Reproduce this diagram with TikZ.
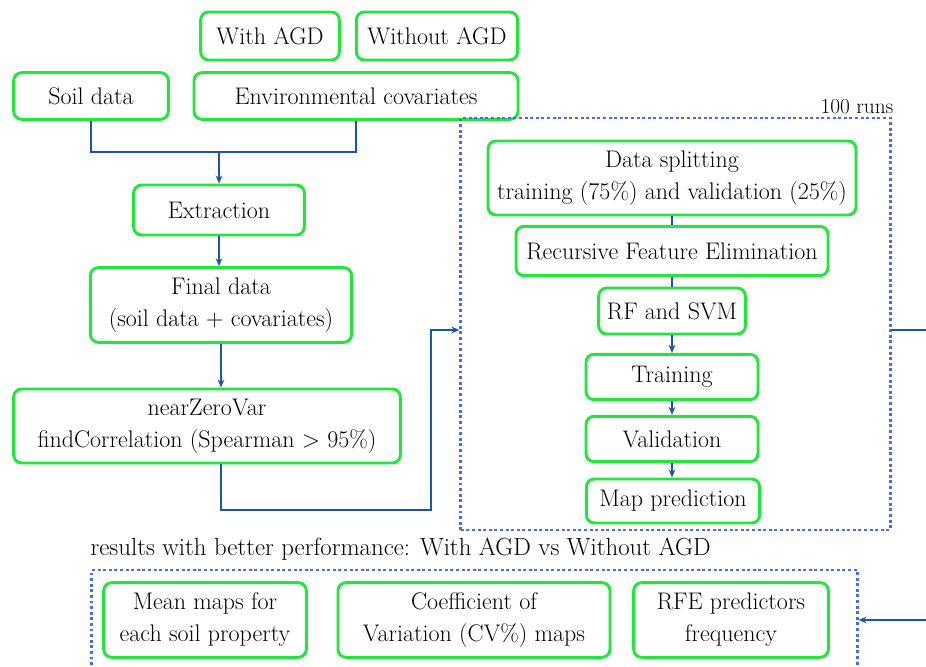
\documentclass[tikz,border=0pt]{standalone}
\usetikzlibrary{calc,arrows.meta,positioning}
\definecolor{boxgreen}{RGB}{35,230,60}
\definecolor{linkblue}{RGB}{25,85,175}
\definecolor{dotblue}{RGB}{70,110,225}
\tikzset{
  box/.style={draw=boxgreen,line width=2.2pt,rounded corners=6pt,align=center,
    inner sep=0pt,font=\fontsize{18}{24}\selectfont},
  link/.style={draw=linkblue,line width=1.4pt},
  arr/.style={link,-{Stealth[length=6pt,width=5pt]}},
  runbox/.style={draw=dotblue,line width=2.2pt,dotted,inner sep=0pt},
  plain/.style={inner sep=0pt,font=\fontsize{18.6}{22}\selectfont},
}

\begin{document}
\begin{tikzpicture}[x=0.75pt,y=-0.75pt]
\clip (0,0) rectangle (926,667);
\fill[white] (0,0) rectangle (926,667);
% inputs
\node[box,minimum width=104pt,minimum height=36pt] (with) at (270,36) {With AGD};
\node[box,minimum width=121pt,minimum height=36pt] (without) at (437,36) {Without AGD};
\node[box,minimum width=116pt,minimum height=35pt] (soil) at (91,96) {Soil data};
\node[box,minimum width=243pt,minimum height=35pt] (env) at (356,96) {Environmental covariates};
% left column
\node[box,minimum width=128pt,minimum height=37.5pt] (extract) at (219,210) {Extraction};
\node[box,minimum width=196pt,minimum height=56pt] (final) at (221,305) {Final data\\(soil data + covariates)};
\node[box,minimum width=290pt,minimum height=55.5pt] (nzv) at (207,426) {nearZeroVar\\findCorrelation (Spearman > 95\%)};
% runs
\node[runbox,minimum width=322pt,minimum height=309pt] (runs) at (675.5,324) {};
\node[plain,font=\fontsize{16}{20}\selectfont,anchor=south east] (runlbl) at ($(runs.north east)+(2,-2)$) {100 runs};
\node[box,minimum width=276pt,minimum height=55.5pt] (split) at (672,178) {Data splitting\\training (75\%) and validation (25\%)};
\node[box,minimum width=234pt,minimum height=37pt] (rfe) at (672,251) {Recursive Feature Elimination};
\node[box,minimum width=110pt,minimum height=34.5pt] (rfsvm) at (672,311) {RF and SVM};
\node[box,minimum width=129pt,minimum height=34pt] (train) at (672,377) {Training};
\node[box,minimum width=129pt,minimum height=34pt] (valid) at (672,439) {Validation};
\node[box,minimum width=130pt,minimum height=33pt] (mappred) at (673,501) {Map prediction};
% results
\node[runbox,minimum width=574pt,minimum height=76.5pt] (res) at (474.5,621) {};
\node[plain,anchor=south west] (reslbl) at ($(res.north west)+(0,-8)$) {results with better performance: With AGD vs Without AGD};
\node[box,minimum width=152pt,minimum height=56pt] (mean) at (205,620) {Mean maps for\\each soil property};
\node[box,minimum width=204pt,minimum height=56pt] (cv) at (474,620) {Coefficient of\\Variation (CV\%) maps};
\node[box,minimum width=146pt,minimum height=56pt] (freq) at (731,620) {RFE predictors\\frequency};
% connectors
\coordinate (join) at (219,152);
\coordinate (c1) at (431,510);
\coordinate (c2) at (431,330);
\coordinate (out) at (950,620);
\draw[link] (soil.south) |- (join) -| (env.south);
\draw[arr] (join) -- (extract.north);
\draw[arr] (extract.south) -- (extract.south |- final.north);
\draw[arr] (final.south) -- (final.south |- nzv.north);
\draw[arr] (final.south |- nzv.south) |- (c1) -- (c2) -- (c2 -| runs.west);
\draw[link] (split.south) -- (rfe.north);
\draw[link] (rfe.south) -- (rfsvm.north);
\draw[arr] (rfsvm.south) -- (train.north);
\draw[arr] (train.south) -- (valid.north);
\draw[arr] (valid.south) -- (valid.south |- mappred.north);
\draw[arr] (c2 -| runs.east) -| (out) -- (out -| res.east);
\end{tikzpicture}
\end{document}
